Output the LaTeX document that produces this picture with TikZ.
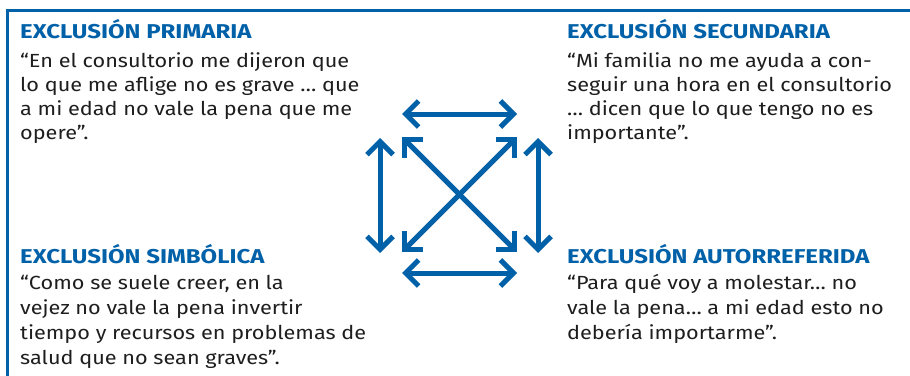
\documentclass[tikz,border=0pt]{standalone}
\usepackage{fontspec}
\setmainfont{Fira Sans}[FakeStretch=1.14]
\newfontfamily\ttlfont{Fira Sans}[FakeStretch=1.2]
\usetikzlibrary{arrows.meta}
\definecolor{exblue}{HTML}{0061A9}
\definecolor{extext}{HTML}{1E1E1E}
\begin{document}
\begin{tikzpicture}[x=1pt,y=-1pt,
  ttl/.style={anchor=base west, inner sep=0pt, text=exblue, font=\ttlfont\fontsize{20}{24}\selectfont\bfseries},
  quotetext/.style={anchor=base west, inner sep=0pt, text=extext, align=left},
  dbl/.style={exblue, line width=5pt, {Straight Barb[length=13pt,width=26pt,sharp]}-{Straight Barb[length=13pt,width=26pt,sharp]}},
  framebar/.style={exblue, line width=3pt}]
\useasboundingbox (0,0) rectangle (910,375);
% frame
\coordinate (fb) at (7,377);
\coordinate (fc) at (7,10);
\coordinate (fe) at (912,10);
\draw[framebar] (fb) -- (fc) -- (fe);
% texts (base anchor = baseline of last line)
\node[ttl] (t1) at (20,38) {EXCLUSIÓN PRIMARIA};
\node[quotetext, font=\fontsize{19}{24.2}\selectfont] (q1) at (20,139.6) {“En el consultorio me dijeron que\\lo que me aflige no es grave … que\\a mi edad no vale la pena que me\\opere”.};
\node[ttl] (t2) at (567,38) {EXCLUSIÓN SECUNDARIA};
\node[quotetext, font=\fontsize{19}{24.2}\selectfont] (q2) at (567,139.6) {“Mi familia no me ayuda a con-\\seguir una hora en el consultorio\\… dicen que lo que tengo no es\\importante”.};
\node[ttl] (t3) at (20,263) {EXCLUSIÓN SIMBÓLICA};
\node[quotetext, font=\fontsize{19}{25}\selectfont] (q3) at (20,364) {“Como se suele creer, en la\\vejez no vale la pena invertir\\tiempo y recursos en problemas de\\salud que no sean graves”.};
\node[ttl] (t4) at (567,263) {EXCLUSIÓN AUTORREFERIDA};
\node[quotetext, font=\fontsize{19}{25}\selectfont] (q4) at (567,339) {“Para qué voy a molestar… no\\vale la pena… a mi edad esto no\\debería importarme”.};
% arrows
\coordinate (ht1) at (402,114); \coordinate (ht2) at (517,114);
\coordinate (hb1) at (402,273); \coordinate (hb2) at (517,273);
\coordinate (vl1) at (380,138); \coordinate (vl2) at (380,253);
\coordinate (vr1) at (538,138); \coordinate (vr2) at (538,253);
\coordinate (d1) at (402,137); \coordinate (d2) at (517,252);
\coordinate (d3) at (517,137); \coordinate (d4) at (402,252);
\draw[dbl] (ht1) -- (ht2);
\draw[dbl] (hb1) -- (hb2);
\draw[dbl] (vl1) -- (vl2);
\draw[dbl] (vr1) -- (vr2);
\draw[dbl] (d1) -- (d2);
\draw[dbl] (d4) -- (d3);
\end{tikzpicture}
\end{document}
